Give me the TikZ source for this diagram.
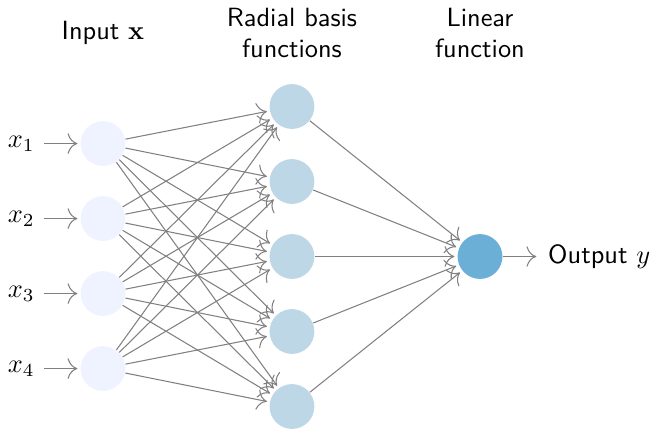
\documentclass[tikz,border=0pt]{standalone}
\usepackage{amsmath}
\usepackage{amssymb}
\usepackage{tikz}
\usetikzlibrary{arrows,arrows.meta,positioning}
\renewcommand{\familydefault}{\sfdefault}

\definecolor{inputblue}{HTML}{EFF3FF}
\definecolor{rbfblue}{HTML}{BDD7E7}
\definecolor{outblue}{HTML}{6BAED6}

\tikzset{
  neuron/.style={circle,minimum size=17pt,inner sep=0pt},
  input neuron/.style={neuron,fill=inputblue},
  rbf neuron/.style={neuron,fill=rbfblue},
  output neuron/.style={neuron,fill=outblue},
  annot/.style={align=center}
}

\begin{document}
\begin{tikzpicture}[shorten >=1pt,>={To[scale=1.5]},->,draw=black!50]
      \useasboundingbox (0,0) rectangle (8.68,-5.8);

    % input layer
    \foreach \i in {1,...,4}
      \node[input neuron] (I-\i) at (1.373,-0.914-\i) {};
    \foreach \i in {1,...,4}
      \node[left=0.48cm of I-\i] (X-\i) {$x_\i$};

    % hidden layer
    \foreach \j in {1,...,5}
      \node[rbf neuron] (H-\j) at (3.893,-0.42-\j) {};

    % output layer
    \node[output neuron] (O) at (6.4,-3.42) {};
    \node[right=0.48cm of O] (Y) {Output $y$};

    \foreach \i in {1,...,4}
      \draw (X-\i) -- (I-\i);
    \foreach \i in {1,...,4}
      \foreach \j in {1,...,5}
        \draw (I-\i) -- (H-\j);
    \foreach \j in {1,...,5}
      \draw (H-\j) -- (O);
    \draw (O) -- (Y);

    \node[annot] (hi) at (1.373,-0.44) {Input $\mathbf{x}$};
    \node[annot] (hh) at (3.893,-0.44) {Radial basis\\functions};
    \node[annot] (ho) at (6.4,-0.44) {Linear\\function};
  \end{tikzpicture}
\end{document}
